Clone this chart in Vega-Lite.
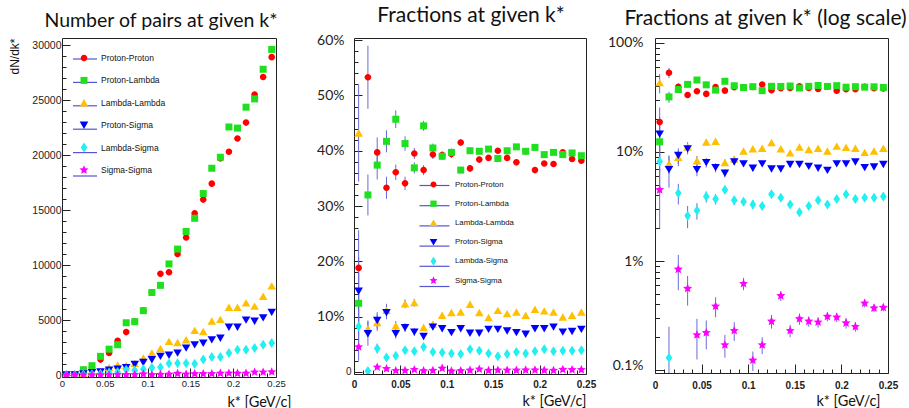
{
  "$schema": "https://vega.github.io/schema/vega-lite/v6.json",
  "background": "white",
  "padding": {"left": 7, "top": 4, "right": 0, "bottom": 0},
  "config": {
    "view": {"stroke": "#222", "strokeWidth": 1},
    "axis": {"grid": false, "domain": false, "tickColor": "#222", "tickWidth": 1, "labelColor": "#222", "labelFont": "Liberation Sans", "titleColor": "#111", "titleFontWeight": "normal", "labelFlush": false, "labelOverlap": false},
    "title": {"font": "Lato", "fontSize": 21, "fontWeight": "normal", "color": "#111", "frame": "group", "baseline": "alphabetic", "offset": 7},
    "legend": {"title": null, "orient": "none", "labelFont": "Liberation Sans", "labelColor": "#111"}
  },
  "datasets": {
    "counts": [
      {"pair": "Proton-Proton", "k": 0.005, "pairs": 8}, {"pair": "Proton-Proton", "k": 0.015, "pairs": 60}, {"pair": "Proton-Proton", "k": 0.025, "pairs": 480}, {"pair": "Proton-Proton", "k": 0.035, "pairs": 680}, {"pair": "Proton-Proton", "k": 0.045, "pairs": 1400}, {"pair": "Proton-Proton", "k": 0.055, "pairs": 2000}, {"pair": "Proton-Proton", "k": 0.065, "pairs": 3100}, {"pair": "Proton-Proton", "k": 0.075, "pairs": 3900}, {"pair": "Proton-Proton", "k": 0.085, "pairs": 4850}, {"pair": "Proton-Proton", "k": 0.095, "pairs": 5850}, {"pair": "Proton-Proton", "k": 0.105, "pairs": 7500}, {"pair": "Proton-Proton", "k": 0.115, "pairs": 9200}, {"pair": "Proton-Proton", "k": 0.125, "pairs": 9350}, {"pair": "Proton-Proton", "k": 0.135, "pairs": 11000}, {"pair": "Proton-Proton", "k": 0.145, "pairs": 12500}, {"pair": "Proton-Proton", "k": 0.155, "pairs": 14700}, {"pair": "Proton-Proton", "k": 0.165, "pairs": 15950}, {"pair": "Proton-Proton", "k": 0.175, "pairs": 17400}, {"pair": "Proton-Proton", "k": 0.185, "pairs": 19700}, {"pair": "Proton-Proton", "k": 0.195, "pairs": 20300}, {"pair": "Proton-Proton", "k": 0.205, "pairs": 21500}, {"pair": "Proton-Proton", "k": 0.215, "pairs": 22950}, {"pair": "Proton-Proton", "k": 0.225, "pairs": 25500}, {"pair": "Proton-Proton", "k": 0.235, "pairs": 27100}, {"pair": "Proton-Proton", "k": 0.245, "pairs": 28900},
      {"pair": "Proton-Lambda", "k": 0.005, "pairs": 5}, {"pair": "Proton-Lambda", "k": 0.015, "pairs": 35}, {"pair": "Proton-Lambda", "k": 0.025, "pairs": 480}, {"pair": "Proton-Lambda", "k": 0.035, "pairs": 850}, {"pair": "Proton-Lambda", "k": 0.045, "pairs": 1700}, {"pair": "Proton-Lambda", "k": 0.055, "pairs": 2350}, {"pair": "Proton-Lambda", "k": 0.065, "pairs": 2750}, {"pair": "Proton-Lambda", "k": 0.075, "pairs": 4750}, {"pair": "Proton-Lambda", "k": 0.085, "pairs": 4850}, {"pair": "Proton-Lambda", "k": 0.095, "pairs": 5850}, {"pair": "Proton-Lambda", "k": 0.105, "pairs": 7500}, {"pair": "Proton-Lambda", "k": 0.115, "pairs": 8150}, {"pair": "Proton-Lambda", "k": 0.125, "pairs": 10100}, {"pair": "Proton-Lambda", "k": 0.135, "pairs": 11450}, {"pair": "Proton-Lambda", "k": 0.145, "pairs": 13050}, {"pair": "Proton-Lambda", "k": 0.155, "pairs": 14250}, {"pair": "Proton-Lambda", "k": 0.165, "pairs": 16500}, {"pair": "Proton-Lambda", "k": 0.175, "pairs": 18800}, {"pair": "Proton-Lambda", "k": 0.185, "pairs": 19800}, {"pair": "Proton-Lambda", "k": 0.195, "pairs": 22550}, {"pair": "Proton-Lambda", "k": 0.205, "pairs": 22450}, {"pair": "Proton-Lambda", "k": 0.215, "pairs": 24350}, {"pair": "Proton-Lambda", "k": 0.225, "pairs": 25100}, {"pair": "Proton-Lambda", "k": 0.235, "pairs": 27800}, {"pair": "Proton-Lambda", "k": 0.245, "pairs": 29600},
      {"pair": "Lambda-Lambda", "k": 0.005, "pairs": 18}, {"pair": "Lambda-Lambda", "k": 0.015, "pairs": 10}, {"pair": "Lambda-Lambda", "k": 0.025, "pairs": 110}, {"pair": "Lambda-Lambda", "k": 0.035, "pairs": 250}, {"pair": "Lambda-Lambda", "k": 0.045, "pairs": 330}, {"pair": "Lambda-Lambda", "k": 0.055, "pairs": 670}, {"pair": "Lambda-Lambda", "k": 0.065, "pairs": 900}, {"pair": "Lambda-Lambda", "k": 0.075, "pairs": 850}, {"pair": "Lambda-Lambda", "k": 0.085, "pairs": 1050}, {"pair": "Lambda-Lambda", "k": 0.095, "pairs": 1550}, {"pair": "Lambda-Lambda", "k": 0.105, "pairs": 2000}, {"pair": "Lambda-Lambda", "k": 0.115, "pairs": 2400}, {"pair": "Lambda-Lambda", "k": 0.125, "pairs": 3050}, {"pair": "Lambda-Lambda", "k": 0.135, "pairs": 2950}, {"pair": "Lambda-Lambda", "k": 0.145, "pairs": 3200}, {"pair": "Lambda-Lambda", "k": 0.155, "pairs": 4050}, {"pair": "Lambda-Lambda", "k": 0.165, "pairs": 3950}, {"pair": "Lambda-Lambda", "k": 0.175, "pairs": 4900}, {"pair": "Lambda-Lambda", "k": 0.185, "pairs": 5050}, {"pair": "Lambda-Lambda", "k": 0.195, "pairs": 6150}, {"pair": "Lambda-Lambda", "k": 0.205, "pairs": 6150}, {"pair": "Lambda-Lambda", "k": 0.215, "pairs": 6550}, {"pair": "Lambda-Lambda", "k": 0.225, "pairs": 6250}, {"pair": "Lambda-Lambda", "k": 0.235, "pairs": 7150}, {"pair": "Lambda-Lambda", "k": 0.245, "pairs": 8100},
      {"pair": "Proton-Sigma", "k": 0.005, "pairs": 6}, {"pair": "Proton-Sigma", "k": 0.015, "pairs": 8}, {"pair": "Proton-Sigma", "k": 0.025, "pairs": 110}, {"pair": "Proton-Sigma", "k": 0.035, "pairs": 230}, {"pair": "Proton-Sigma", "k": 0.045, "pairs": 280}, {"pair": "Proton-Sigma", "k": 0.055, "pairs": 450}, {"pair": "Proton-Sigma", "k": 0.065, "pairs": 540}, {"pair": "Proton-Sigma", "k": 0.075, "pairs": 680}, {"pair": "Proton-Sigma", "k": 0.085, "pairs": 980}, {"pair": "Proton-Sigma", "k": 0.095, "pairs": 1150}, {"pair": "Proton-Sigma", "k": 0.105, "pairs": 1400}, {"pair": "Proton-Sigma", "k": 0.115, "pairs": 1700}, {"pair": "Proton-Sigma", "k": 0.125, "pairs": 1800}, {"pair": "Proton-Sigma", "k": 0.135, "pairs": 2000}, {"pair": "Proton-Sigma", "k": 0.145, "pairs": 2450}, {"pair": "Proton-Sigma", "k": 0.155, "pairs": 2750}, {"pair": "Proton-Sigma", "k": 0.165, "pairs": 2900}, {"pair": "Proton-Sigma", "k": 0.175, "pairs": 3200}, {"pair": "Proton-Sigma", "k": 0.185, "pairs": 3350}, {"pair": "Proton-Sigma", "k": 0.195, "pairs": 4350}, {"pair": "Proton-Sigma", "k": 0.205, "pairs": 4350}, {"pair": "Proton-Sigma", "k": 0.215, "pairs": 5000}, {"pair": "Proton-Sigma", "k": 0.225, "pairs": 4900}, {"pair": "Proton-Sigma", "k": 0.235, "pairs": 5200}, {"pair": "Proton-Sigma", "k": 0.245, "pairs": 5700},
      {"pair": "Lambda-Sigma", "k": 0.005, "pairs": 3}, {"pair": "Lambda-Sigma", "k": 0.015, "pairs": 1}, {"pair": "Lambda-Sigma", "k": 0.025, "pairs": 50}, {"pair": "Lambda-Sigma", "k": 0.035, "pairs": 60}, {"pair": "Lambda-Sigma", "k": 0.045, "pairs": 115}, {"pair": "Lambda-Sigma", "k": 0.055, "pairs": 220}, {"pair": "Lambda-Sigma", "k": 0.065, "pairs": 280}, {"pair": "Lambda-Sigma", "k": 0.075, "pairs": 480}, {"pair": "Lambda-Sigma", "k": 0.085, "pairs": 430}, {"pair": "Lambda-Sigma", "k": 0.095, "pairs": 520}, {"pair": "Lambda-Sigma", "k": 0.105, "pairs": 650}, {"pair": "Lambda-Sigma", "k": 0.115, "pairs": 700}, {"pair": "Lambda-Sigma", "k": 0.125, "pairs": 1050}, {"pair": "Lambda-Sigma", "k": 0.135, "pairs": 1080}, {"pair": "Lambda-Sigma", "k": 0.145, "pairs": 1070}, {"pair": "Lambda-Sigma", "k": 0.155, "pairs": 1020}, {"pair": "Lambda-Sigma", "k": 0.165, "pairs": 1420}, {"pair": "Lambda-Sigma", "k": 0.175, "pairs": 1640}, {"pair": "Lambda-Sigma", "k": 0.185, "pairs": 1640}, {"pair": "Lambda-Sigma", "k": 0.195, "pairs": 2000}, {"pair": "Lambda-Sigma", "k": 0.205, "pairs": 2300}, {"pair": "Lambda-Sigma", "k": 0.215, "pairs": 2300}, {"pair": "Lambda-Sigma", "k": 0.225, "pairs": 2450}, {"pair": "Lambda-Sigma", "k": 0.235, "pairs": 2750}, {"pair": "Lambda-Sigma", "k": 0.245, "pairs": 2900},
      {"pair": "Sigma-Sigma", "k": 0.005, "pairs": 2}, {"pair": "Sigma-Sigma", "k": 0.015, "pairs": 0}, {"pair": "Sigma-Sigma", "k": 0.025, "pairs": 11}, {"pair": "Sigma-Sigma", "k": 0.035, "pairs": 12}, {"pair": "Sigma-Sigma", "k": 0.045, "pairs": 8}, {"pair": "Sigma-Sigma", "k": 0.055, "pairs": 12}, {"pair": "Sigma-Sigma", "k": 0.065, "pairs": 29}, {"pair": "Sigma-Sigma", "k": 0.075, "pairs": 18}, {"pair": "Sigma-Sigma", "k": 0.085, "pairs": 28}, {"pair": "Sigma-Sigma", "k": 0.095, "pairs": 93}, {"pair": "Sigma-Sigma", "k": 0.105, "pairs": 23}, {"pair": "Sigma-Sigma", "k": 0.115, "pairs": 38}, {"pair": "Sigma-Sigma", "k": 0.125, "pairs": 71}, {"pair": "Sigma-Sigma", "k": 0.135, "pairs": 136}, {"pair": "Sigma-Sigma", "k": 0.145, "pairs": 74}, {"pair": "Sigma-Sigma", "k": 0.155, "pairs": 108}, {"pair": "Sigma-Sigma", "k": 0.165, "pairs": 114}, {"pair": "Sigma-Sigma", "k": 0.175, "pairs": 126}, {"pair": "Sigma-Sigma", "k": 0.185, "pairs": 153}, {"pair": "Sigma-Sigma", "k": 0.195, "pairs": 169}, {"pair": "Sigma-Sigma", "k": 0.205, "pairs": 153}, {"pair": "Sigma-Sigma", "k": 0.215, "pairs": 153}, {"pair": "Sigma-Sigma", "k": 0.225, "pairs": 263}, {"pair": "Sigma-Sigma", "k": 0.235, "pairs": 259}, {"pair": "Sigma-Sigma", "k": 0.245, "pairs": 282}
    ],
    "fractions": [
      {"pair": "Proton-Proton", "k": 0.005, "frac": 18.8, "err": 6.8}, {"pair": "Proton-Proton", "k": 0.015, "frac": 53.3, "err": 5.7}, {"pair": "Proton-Proton", "k": 0.025, "frac": 39.7, "err": 2.7}, {"pair": "Proton-Proton", "k": 0.035, "frac": 33.3, "err": 2.0}, {"pair": "Proton-Proton", "k": 0.045, "frac": 36.1, "err": 1.4}, {"pair": "Proton-Proton", "k": 0.055, "frac": 34.1, "err": 1.2}, {"pair": "Proton-Proton", "k": 0.065, "frac": 39.5, "err": 1.0}, {"pair": "Proton-Proton", "k": 0.075, "frac": 36.5, "err": 0.9}, {"pair": "Proton-Proton", "k": 0.085, "frac": 39.3, "err": 0.8}, {"pair": "Proton-Proton", "k": 0.095, "frac": 39.2, "err": 0.7}, {"pair": "Proton-Proton", "k": 0.105, "frac": 39.4, "err": 0.7}, {"pair": "Proton-Proton", "k": 0.115, "frac": 41.5, "err": 0.6}, {"pair": "Proton-Proton", "k": 0.125, "frac": 36.8, "err": 0.6}, {"pair": "Proton-Proton", "k": 0.135, "frac": 38.4, "err": 0.55}, {"pair": "Proton-Proton", "k": 0.145, "frac": 38.7, "err": 0.5}, {"pair": "Proton-Proton", "k": 0.155, "frac": 40.0, "err": 0.5}, {"pair": "Proton-Proton", "k": 0.165, "frac": 38.7, "err": 0.45}, {"pair": "Proton-Proton", "k": 0.175, "frac": 37.9, "err": 0.45}, {"pair": "Proton-Proton", "k": 0.185, "frac": 39.9, "err": 0.4}, {"pair": "Proton-Proton", "k": 0.195, "frac": 36.5, "err": 0.4}, {"pair": "Proton-Proton", "k": 0.205, "frac": 37.7, "err": 0.4}, {"pair": "Proton-Proton", "k": 0.215, "frac": 37.6, "err": 0.4}, {"pair": "Proton-Proton", "k": 0.225, "frac": 39.7, "err": 0.35}, {"pair": "Proton-Proton", "k": 0.235, "frac": 38.5, "err": 0.35}, {"pair": "Proton-Proton", "k": 0.245, "frac": 38.2, "err": 0.35},
      {"pair": "Proton-Lambda", "k": 0.005, "frac": 12.4, "err": 5.8}, {"pair": "Proton-Lambda", "k": 0.015, "frac": 32.0, "err": 3.7}, {"pair": "Proton-Lambda", "k": 0.025, "frac": 37.4, "err": 2.6}, {"pair": "Proton-Lambda", "k": 0.035, "frac": 41.7, "err": 2.0}, {"pair": "Proton-Lambda", "k": 0.045, "frac": 45.7, "err": 1.6}, {"pair": "Proton-Lambda", "k": 0.055, "frac": 41.3, "err": 1.3}, {"pair": "Proton-Lambda", "k": 0.065, "frac": 36.9, "err": 1.0}, {"pair": "Proton-Lambda", "k": 0.075, "frac": 44.5, "err": 0.9}, {"pair": "Proton-Lambda", "k": 0.085, "frac": 40.5, "err": 0.8}, {"pair": "Proton-Lambda", "k": 0.095, "frac": 39.0, "err": 0.7}, {"pair": "Proton-Lambda", "k": 0.105, "frac": 39.7, "err": 0.7}, {"pair": "Proton-Lambda", "k": 0.115, "frac": 36.5, "err": 0.6}, {"pair": "Proton-Lambda", "k": 0.125, "frac": 40.0, "err": 0.6}, {"pair": "Proton-Lambda", "k": 0.135, "frac": 39.9, "err": 0.55}, {"pair": "Proton-Lambda", "k": 0.145, "frac": 40.3, "err": 0.5}, {"pair": "Proton-Lambda", "k": 0.155, "frac": 38.6, "err": 0.5}, {"pair": "Proton-Lambda", "k": 0.165, "frac": 40.0, "err": 0.45}, {"pair": "Proton-Lambda", "k": 0.175, "frac": 40.7, "err": 0.45}, {"pair": "Proton-Lambda", "k": 0.185, "frac": 39.9, "err": 0.4}, {"pair": "Proton-Lambda", "k": 0.195, "frac": 40.6, "err": 0.4}, {"pair": "Proton-Lambda", "k": 0.205, "frac": 39.3, "err": 0.4}, {"pair": "Proton-Lambda", "k": 0.215, "frac": 39.7, "err": 0.4}, {"pair": "Proton-Lambda", "k": 0.225, "frac": 39.3, "err": 0.35}, {"pair": "Proton-Lambda", "k": 0.235, "frac": 39.6, "err": 0.35}, {"pair": "Proton-Lambda", "k": 0.245, "frac": 39.1, "err": 0.35},
      {"pair": "Lambda-Lambda", "k": 0.005, "frac": 43.2, "err": 8.8}, {"pair": "Lambda-Lambda", "k": 0.015, "frac": 7.8, "err": 1.5}, {"pair": "Lambda-Lambda", "k": 0.025, "frac": 8.9, "err": 1.5}, {"pair": "Lambda-Lambda", "k": 0.035, "frac": 11.1, "err": 1.2}, {"pair": "Lambda-Lambda", "k": 0.045, "frac": 8.3, "err": 0.9}, {"pair": "Lambda-Lambda", "k": 0.055, "frac": 12.3, "err": 0.8}, {"pair": "Lambda-Lambda", "k": 0.065, "frac": 12.5, "err": 0.7}, {"pair": "Lambda-Lambda", "k": 0.075, "frac": 8.0, "err": 0.55}, {"pair": "Lambda-Lambda", "k": 0.085, "frac": 8.6, "err": 0.5}, {"pair": "Lambda-Lambda", "k": 0.095, "frac": 10.2, "err": 0.5}, {"pair": "Lambda-Lambda", "k": 0.105, "frac": 10.7, "err": 0.45}, {"pair": "Lambda-Lambda", "k": 0.115, "frac": 10.8, "err": 0.4}, {"pair": "Lambda-Lambda", "k": 0.125, "frac": 12.2, "err": 0.4}, {"pair": "Lambda-Lambda", "k": 0.135, "frac": 10.7, "err": 0.35}, {"pair": "Lambda-Lambda", "k": 0.145, "frac": 9.8, "err": 0.35}, {"pair": "Lambda-Lambda", "k": 0.155, "frac": 11.1, "err": 0.3}, {"pair": "Lambda-Lambda", "k": 0.165, "frac": 10.5, "err": 0.3}, {"pair": "Lambda-Lambda", "k": 0.175, "frac": 10.8, "err": 0.3}, {"pair": "Lambda-Lambda", "k": 0.185, "frac": 10.2, "err": 0.3}, {"pair": "Lambda-Lambda", "k": 0.195, "frac": 11.3, "err": 0.28}, {"pair": "Lambda-Lambda", "k": 0.205, "frac": 11.0, "err": 0.28}, {"pair": "Lambda-Lambda", "k": 0.215, "frac": 10.8, "err": 0.27}, {"pair": "Lambda-Lambda", "k": 0.225, "frac": 9.9, "err": 0.25}, {"pair": "Lambda-Lambda", "k": 0.235, "frac": 10.2, "err": 0.25}, {"pair": "Lambda-Lambda", "k": 0.245, "frac": 10.8, "err": 0.25},
      {"pair": "Proton-Sigma", "k": 0.005, "frac": 14.6, "err": 6.2}, {"pair": "Proton-Sigma", "k": 0.015, "frac": 6.9, "err": 2.2}, {"pair": "Proton-Sigma", "k": 0.025, "frac": 9.3, "err": 1.5}, {"pair": "Proton-Sigma", "k": 0.035, "frac": 10.7, "err": 1.2}, {"pair": "Proton-Sigma", "k": 0.045, "frac": 6.9, "err": 0.9}, {"pair": "Proton-Sigma", "k": 0.055, "frac": 8.0, "err": 0.8}, {"pair": "Proton-Sigma", "k": 0.065, "frac": 7.2, "err": 0.7}, {"pair": "Proton-Sigma", "k": 0.075, "frac": 6.4, "err": 0.55}, {"pair": "Proton-Sigma", "k": 0.085, "frac": 8.1, "err": 0.5}, {"pair": "Proton-Sigma", "k": 0.095, "frac": 7.8, "err": 0.5}, {"pair": "Proton-Sigma", "k": 0.105, "frac": 7.1, "err": 0.45}, {"pair": "Proton-Sigma", "k": 0.115, "frac": 7.8, "err": 0.4}, {"pair": "Proton-Sigma", "k": 0.125, "frac": 7.0, "err": 0.4}, {"pair": "Proton-Sigma", "k": 0.135, "frac": 7.0, "err": 0.35}, {"pair": "Proton-Sigma", "k": 0.145, "frac": 7.7, "err": 0.35}, {"pair": "Proton-Sigma", "k": 0.155, "frac": 7.7, "err": 0.3}, {"pair": "Proton-Sigma", "k": 0.165, "frac": 7.4, "err": 0.3}, {"pair": "Proton-Sigma", "k": 0.175, "frac": 7.1, "err": 0.3}, {"pair": "Proton-Sigma", "k": 0.185, "frac": 6.8, "err": 0.3}, {"pair": "Proton-Sigma", "k": 0.195, "frac": 7.8, "err": 0.28}, {"pair": "Proton-Sigma", "k": 0.205, "frac": 7.8, "err": 0.28}, {"pair": "Proton-Sigma", "k": 0.215, "frac": 8.1, "err": 0.27}, {"pair": "Proton-Sigma", "k": 0.225, "frac": 7.2, "err": 0.25}, {"pair": "Proton-Sigma", "k": 0.235, "frac": 7.3, "err": 0.25}, {"pair": "Proton-Sigma", "k": 0.245, "frac": 7.7, "err": 0.25},
      {"pair": "Lambda-Sigma", "k": 0.005, "frac": 8.2, "err": 4.0}, {"pair": "Lambda-Sigma", "k": 0.015, "frac": 0.13, "err": 0.12}, {"pair": "Lambda-Sigma", "k": 0.025, "frac": 4.2, "err": 0.9}, {"pair": "Lambda-Sigma", "k": 0.035, "frac": 2.6, "err": 0.6}, {"pair": "Lambda-Sigma", "k": 0.045, "frac": 2.9, "err": 0.5}, {"pair": "Lambda-Sigma", "k": 0.055, "frac": 3.9, "err": 0.45}, {"pair": "Lambda-Sigma", "k": 0.065, "frac": 3.7, "err": 0.4}, {"pair": "Lambda-Sigma", "k": 0.075, "frac": 4.5, "err": 0.35}, {"pair": "Lambda-Sigma", "k": 0.085, "frac": 3.6, "err": 0.35}, {"pair": "Lambda-Sigma", "k": 0.095, "frac": 3.5, "err": 0.3}, {"pair": "Lambda-Sigma", "k": 0.105, "frac": 3.3, "err": 0.3}, {"pair": "Lambda-Sigma", "k": 0.115, "frac": 3.2, "err": 0.25}, {"pair": "Lambda-Sigma", "k": 0.125, "frac": 4.1, "err": 0.25}, {"pair": "Lambda-Sigma", "k": 0.135, "frac": 3.8, "err": 0.25}, {"pair": "Lambda-Sigma", "k": 0.145, "frac": 3.3, "err": 0.22}, {"pair": "Lambda-Sigma", "k": 0.155, "frac": 2.8, "err": 0.2}, {"pair": "Lambda-Sigma", "k": 0.165, "frac": 3.2, "err": 0.2}, {"pair": "Lambda-Sigma", "k": 0.175, "frac": 3.6, "err": 0.2}, {"pair": "Lambda-Sigma", "k": 0.185, "frac": 3.3, "err": 0.18}, {"pair": "Lambda-Sigma", "k": 0.195, "frac": 3.7, "err": 0.18}, {"pair": "Lambda-Sigma", "k": 0.205, "frac": 4.1, "err": 0.18}, {"pair": "Lambda-Sigma", "k": 0.215, "frac": 3.7, "err": 0.17}, {"pair": "Lambda-Sigma", "k": 0.225, "frac": 3.8, "err": 0.17}, {"pair": "Lambda-Sigma", "k": 0.235, "frac": 3.8, "err": 0.16}, {"pair": "Lambda-Sigma", "k": 0.245, "frac": 3.9, "err": 0.16},
      {"pair": "Sigma-Sigma", "k": 0.005, "frac": 4.5, "err": 2.5}, {"pair": "Sigma-Sigma", "k": 0.025, "frac": 0.84, "err": 0.3}, {"pair": "Sigma-Sigma", "k": 0.035, "frac": 0.56, "err": 0.17}, {"pair": "Sigma-Sigma", "k": 0.045, "frac": 0.21, "err": 0.085}, {"pair": "Sigma-Sigma", "k": 0.055, "frac": 0.22, "err": 0.065}, {"pair": "Sigma-Sigma", "k": 0.065, "frac": 0.385, "err": 0.08}, {"pair": "Sigma-Sigma", "k": 0.075, "frac": 0.17, "err": 0.04}, {"pair": "Sigma-Sigma", "k": 0.085, "frac": 0.23, "err": 0.045}, {"pair": "Sigma-Sigma", "k": 0.095, "frac": 0.62, "err": 0.08}, {"pair": "Sigma-Sigma", "k": 0.105, "frac": 0.123, "err": 0.025}, {"pair": "Sigma-Sigma", "k": 0.115, "frac": 0.17, "err": 0.03}, {"pair": "Sigma-Sigma", "k": 0.125, "frac": 0.28, "err": 0.04}, {"pair": "Sigma-Sigma", "k": 0.135, "frac": 0.48, "err": 0.05}, {"pair": "Sigma-Sigma", "k": 0.145, "frac": 0.23, "err": 0.03}, {"pair": "Sigma-Sigma", "k": 0.155, "frac": 0.295, "err": 0.035}, {"pair": "Sigma-Sigma", "k": 0.165, "frac": 0.28, "err": 0.03}, {"pair": "Sigma-Sigma", "k": 0.175, "frac": 0.275, "err": 0.03}, {"pair": "Sigma-Sigma", "k": 0.185, "frac": 0.31, "err": 0.03}, {"pair": "Sigma-Sigma", "k": 0.195, "frac": 0.305, "err": 0.03}, {"pair": "Sigma-Sigma", "k": 0.205, "frac": 0.27, "err": 0.03}, {"pair": "Sigma-Sigma", "k": 0.215, "frac": 0.25, "err": 0.025}, {"pair": "Sigma-Sigma", "k": 0.225, "frac": 0.41, "err": 0.035}, {"pair": "Sigma-Sigma", "k": 0.235, "frac": 0.37, "err": 0.03}, {"pair": "Sigma-Sigma", "k": 0.245, "frac": 0.375, "err": 0.03}
    ]
  },
  "bounds": "flush",
  "spacing": 78,
  "hconcat": [
    {
      "width": 214,
      "height": 339,
      "data": {"name": "counts"},
      "title": {"text": "Number of pairs at given k*", "fontSize": 19.5, "dx": -8},
      "layer": [
        {
          "mark": {"type": "errorbar", "thickness": 1, "color": "#4b4bc8", "clip": true},
          "encoding": {
            "x": {"field": "k", "type": "quantitative", "scale": {"domain": [0, 0.25], "nice": false, "zero": false},
              "axis": {"orient": "bottom", "values": [0, 0.05, 0.1, 0.15, 0.2, 0.25], "format": "~g", "tickSize": -9, "labelPadding": 10, "labelFontSize": 9.5,
                "title": "k* [GeV/c]", "titleFont": "Lato", "titleFontSize": 14.5, "titleAlign": "right", "titleBaseline": "alphabetic", "titleAnchor": "start", "titleX": 229, "titleY": 29}},
            "xError": {"value": 0.005},
            "y": {"field": "pairs", "type": "quantitative", "scale": {"domain": [-180, 30640], "nice": false, "zero": false},
              "axis": {"orient": "left", "values": [0, 5000, 10000, 15000, 20000, 25000, 30000], "format": "d", "tickSize": -8, "labelPadding": 9, "labelFontSize": 10.5,
                "title": "dN/dk*", "titleFont": "Liberation Sans", "titleFontSize": 12, "titleAngle": -90, "titleAlign": "right", "titleBaseline": "middle", "titleAnchor": "start", "titleX": -48, "titleY": 0}},
            "color": {"field": "pair", "type": "nominal",
              "scale": {"domain": ["Proton-Proton", "Proton-Lambda", "Lambda-Lambda", "Proton-Sigma", "Lambda-Sigma", "Sigma-Sigma"], "range": ["#5555d0", "#5555d0", "#5555d0", "#5555d0", "#5555d0", "#5555d0"]},
              "legend": {"legendX": 17, "legendY": 15, "symbolType": "M-2.4,0H2.4", "symbolSize": 100, "symbolStrokeWidth": 1.2, "labelExpr": "''", "labelFontSize": 8.5, "labelOffset": 12, "rowPadding": 12.4, "zindex": 0}}
          }
        },
        {
          "mark": {"type": "point", "filled": true, "opacity": 1, "size": 100, "strokeWidth": 0, "clip": true},
          "encoding": {
            "x": {"field": "k", "type": "quantitative",
              "axis": {"orient": "bottom", "values": [0.01, 0.02, 0.03, 0.04, 0.06, 0.07, 0.08, 0.09, 0.11, 0.12, 0.13, 0.14, 0.16, 0.17, 0.18, 0.19, 0.21, 0.22, 0.23, 0.24], "labels": false, "tickSize": -4, "title": null}},
            "y": {"field": "pairs", "type": "quantitative",
              "axis": {"orient": "left", "values": [1000, 2000, 3000, 4000, 6000, 7000, 8000, 9000, 11000, 12000, 13000, 14000, 16000, 17000, 18000, 19000, 21000, 22000, 23000, 24000, 26000, 27000, 28000, 29000], "labels": false, "tickSize": -4, "title": null}},
            "color": {"field": "pair", "type": "nominal",
              "scale": {"domain": ["Proton-Proton", "Proton-Lambda", "Lambda-Lambda", "Proton-Sigma", "Lambda-Sigma", "Sigma-Sigma"], "range": ["#ff0000", "#1fe01f", "#ffc000", "#0000ff", "#20f0f0", "#ff00ff"]},
              "legend": {"legendX": 17, "legendY": 15, "symbolSize": 100, "symbolStrokeWidth": 0, "labelFontSize": 8.5, "labelOffset": 12, "rowPadding": 12.4, "zindex": 1}},
            "shape": {"field": "pair", "type": "nominal",
              "scale": {"domain": ["Proton-Proton", "Proton-Lambda", "Lambda-Lambda", "Proton-Sigma", "Lambda-Sigma", "Sigma-Sigma"],
                "range": ["M-0.66,0A0.66,0.66,0,1,0,0.66,0A0.66,0.66,0,1,0,-0.66,0Z", "M-0.7,-0.7H0.7V0.7H-0.7Z", "M0,-0.76L0.86,0.72L-0.86,0.72Z", "M0,0.76L0.86,-0.72L-0.86,-0.72Z", "M0,-1L0.66,0L0,1L-0.66,0Z", "M0,-0.95L0.26,-0.35L0.9,-0.29L0.42,0.13L0.56,0.77L0,0.44L-0.56,0.77L-0.42,0.13L-0.9,-0.29L-0.26,-0.35Z"]},
              "legend": {"legendX": 17, "legendY": 15, "symbolSize": 100, "symbolStrokeWidth": 0, "labelFontSize": 8.5, "labelOffset": 12, "rowPadding": 12.4, "zindex": 1}}
          }
        }
      ],
      "resolve": {"scale": {"color": "independent", "shape": "independent"}, "axis": {"x": "independent", "y": "independent"}}
    },
    {
      "bounds": "flush",
      "spacing": 69,
      "hconcat": [
        {
          "width": 232,
          "height": 336,
          "data": {"name": "fractions"},
          "title": {"text": "Fractions at given k*", "dx": 1},
          "layer": [
            {
              "mark": {"type": "errorbar", "thickness": 1, "color": "#4b4bc8", "clip": true},
              "encoding": {
                "x": {"field": "k", "type": "quantitative", "scale": {"domain": [0, 0.25], "nice": false, "zero": false},
                  "axis": {"orient": "bottom", "values": [0, 0.05, 0.1, 0.15, 0.2, 0.25], "format": "~g", "tickSize": -9, "labelPadding": 14.5, "labelFontSize": 10, "labelFontWeight": "bold",
                    "title": "k* [GeV/c]", "titleFont": "Lato", "titleFontSize": 14.5, "titleAlign": "right", "titleBaseline": "alphabetic", "titleAnchor": "start", "titleX": 232, "titleY": 31}},
                "xError": {"value": 0.005},
                "y": {"field": "frac", "type": "quantitative", "scale": {"domain": [-0.4, 60.4], "nice": false, "zero": false},
                  "axis": {"orient": "left", "values": [0, 10, 20, 30, 40, 50, 60], "labelExpr": "datum.value == 0 ? '0' : datum.value + '%'", "tickSize": -8,
                    "labelPadding": {"condition": {"test": "datum.value == 0", "value": 11}, "value": 18},
                    "labelFont": {"condition": {"test": "datum.value == 0", "value": "Liberation Sans"}, "value": "Lato"},
                    "labelFontSize": {"condition": {"test": "datum.value == 0", "value": 10}, "value": 14},
                    "title": null}},
                "color": {"field": "pair", "type": "nominal",
                  "scale": {"domain": ["Proton-Proton", "Proton-Lambda", "Lambda-Lambda", "Proton-Sigma", "Lambda-Sigma", "Sigma-Sigma"], "range": ["#5555d0", "#5555d0", "#5555d0", "#5555d0", "#5555d0", "#5555d0"]},
                  "legend": {"legendX": 75, "legendY": 142, "symbolType": "M-3.35,0H3.35", "symbolSize": 80, "symbolStrokeWidth": 1.2, "labelExpr": "''", "labelFontSize": 7.8, "labelOffset": 17, "rowPadding": 10.2, "zindex": 0}}
              }
            },
            {
              "mark": {"type": "errorbar", "thickness": 1, "color": "#6a6ad8", "clip": true},
              "encoding": {
                "x": {"field": "k", "type": "quantitative",
                  "axis": {"orient": "bottom", "values": [0.01, 0.02, 0.03, 0.04, 0.06, 0.07, 0.08, 0.09, 0.11, 0.12, 0.13, 0.14, 0.16, 0.17, 0.18, 0.19, 0.21, 0.22, 0.23, 0.24], "labels": false, "tickSize": -4, "title": null}},
                "y": {"field": "frac", "type": "quantitative",
                  "axis": {"orient": "left", "values": [2, 4, 6, 8, 12, 14, 16, 18, 22, 24, 26, 28, 32, 34, 36, 38, 42, 44, 46, 48, 52, 54, 56, 58], "labels": false, "tickSize": -4, "title": null}},
                "yError": {"field": "err"}
              }
            },
            {
              "mark": {"type": "point", "filled": true, "opacity": 1, "size": 100, "strokeWidth": 0, "clip": true},
              "encoding": {
                "x": {"field": "k", "type": "quantitative", "axis": null},
                "y": {"field": "frac", "type": "quantitative", "axis": null},
                "color": {"field": "pair", "type": "nominal",
                  "scale": {"domain": ["Proton-Proton", "Proton-Lambda", "Lambda-Lambda", "Proton-Sigma", "Lambda-Sigma", "Sigma-Sigma"], "range": ["#ff0000", "#1fe01f", "#ffc000", "#0000ff", "#20f0f0", "#ff00ff"]},
                  "legend": {"legendX": 75, "legendY": 142, "symbolSize": 80, "symbolStrokeWidth": 0, "labelFontSize": 7.8, "labelOffset": 17, "rowPadding": 10.2, "zindex": 1}},
                "shape": {"field": "pair", "type": "nominal",
                  "scale": {"domain": ["Proton-Proton", "Proton-Lambda", "Lambda-Lambda", "Proton-Sigma", "Lambda-Sigma", "Sigma-Sigma"],
                    "range": ["M-0.66,0A0.66,0.66,0,1,0,0.66,0A0.66,0.66,0,1,0,-0.66,0Z", "M-0.7,-0.7H0.7V0.7H-0.7Z", "M0,-0.76L0.86,0.72L-0.86,0.72Z", "M0,0.76L0.86,-0.72L-0.86,-0.72Z", "M0,-1L0.66,0L0,1L-0.66,0Z", "M0,-0.95L0.26,-0.35L0.9,-0.29L0.42,0.13L0.56,0.77L0,0.44L-0.56,0.77L-0.42,0.13L-0.9,-0.29L-0.26,-0.35Z"]},
                  "legend": {"legendX": 75, "legendY": 142, "symbolSize": 80, "symbolStrokeWidth": 0, "labelFontSize": 7.8, "labelOffset": 17, "rowPadding": 10.2, "zindex": 1}}
              }
            }
          ],
          "resolve": {"scale": {"color": "independent", "shape": "independent"}, "axis": {"x": "independent", "y": "independent"}}
        },
        {
          "width": 233,
          "height": 335,
          "data": {"name": "fractions"},
          "title": {"text": "Fractions at given k* (log scale)", "dx": -6},
          "layer": [
            {
              "mark": {"type": "errorbar", "thickness": 1, "color": "#4b4bc8", "clip": true},
              "encoding": {
                "x": {"field": "k", "type": "quantitative", "scale": {"domain": [0, 0.25], "nice": false, "zero": false},
                  "axis": {"orient": "bottom", "values": [0, 0.05, 0.1, 0.15, 0.2, 0.25], "format": "~g", "tickSize": -9, "labelPadding": 16.5, "labelFontSize": 10, "labelFontWeight": "bold",
                    "title": "k* [GeV/c]", "titleFont": "Lato", "titleFontSize": 14.5, "titleAlign": "right", "titleBaseline": "alphabetic", "titleAnchor": "start", "titleX": 225, "titleY": 32.5}},
                "xError": {"value": 0.005},
                "y": {"field": "frac", "type": "quantitative", "scale": {"type": "log", "domain": [0.094, 111], "nice": false},
                  "axis": {"orient": "left", "values": [0.1, 1, 10, 100], "labelExpr": "datum.value + '%'", "tickSize": -9, "labelPadding": 21, "labelFont": "Lato", "labelFontSize": 14,
                    "labelOffset": {"condition": {"test": "datum.value < 0.5", "value": -5}, "value": 0}, "title": null}},
                "color": {"field": "pair", "type": "nominal",
                  "scale": {"domain": ["Proton-Proton", "Proton-Lambda", "Lambda-Lambda", "Proton-Sigma", "Lambda-Sigma", "Sigma-Sigma"], "range": ["#5555d0", "#5555d0", "#5555d0", "#5555d0", "#5555d0", "#5555d0"]},
                  "legend": null}
              }
            },
            {
              "mark": {"type": "errorbar", "thickness": 1, "color": "#6a6ad8", "clip": true},
              "encoding": {
                "x": {"field": "k", "type": "quantitative",
                  "axis": {"orient": "bottom", "values": [0.01, 0.02, 0.03, 0.04, 0.06, 0.07, 0.08, 0.09, 0.11, 0.12, 0.13, 0.14, 0.16, 0.17, 0.18, 0.19, 0.21, 0.22, 0.23, 0.24], "labels": false, "tickSize": -4, "title": null}},
                "y": {"field": "frac", "type": "quantitative",
                  "axis": {"orient": "left", "values": [0.2, 0.3, 0.4, 0.5, 0.6, 0.7, 0.8, 0.9, 2, 3, 4, 5, 6, 7, 8, 9, 20, 30, 40, 50, 60, 70, 80, 90], "labels": false, "tickSize": -4.5, "title": null}},
                "yError": {"field": "err"}
              }
            },
            {
              "mark": {"type": "point", "filled": true, "opacity": 1, "size": 100, "strokeWidth": 0, "clip": true},
              "encoding": {
                "x": {"field": "k", "type": "quantitative", "axis": null},
                "y": {"field": "frac", "type": "quantitative", "axis": null},
                "color": {"field": "pair", "type": "nominal",
                  "scale": {"domain": ["Proton-Proton", "Proton-Lambda", "Lambda-Lambda", "Proton-Sigma", "Lambda-Sigma", "Sigma-Sigma"], "range": ["#ff0000", "#1fe01f", "#ffc000", "#0000ff", "#20f0f0", "#ff00ff"]},
                  "legend": null},
                "shape": {"field": "pair", "type": "nominal",
                  "scale": {"domain": ["Proton-Proton", "Proton-Lambda", "Lambda-Lambda", "Proton-Sigma", "Lambda-Sigma", "Sigma-Sigma"],
                    "range": ["M-0.66,0A0.66,0.66,0,1,0,0.66,0A0.66,0.66,0,1,0,-0.66,0Z", "M-0.7,-0.7H0.7V0.7H-0.7Z", "M0,-0.76L0.86,0.72L-0.86,0.72Z", "M0,0.76L0.86,-0.72L-0.86,-0.72Z", "M0,-1L0.66,0L0,1L-0.66,0Z", "M0,-0.95L0.26,-0.35L0.9,-0.29L0.42,0.13L0.56,0.77L0,0.44L-0.56,0.77L-0.42,0.13L-0.9,-0.29L-0.26,-0.35Z"]},
                  "legend": null}
              }
            }
          ],
          "resolve": {"scale": {"color": "independent", "shape": "independent"}, "axis": {"x": "independent", "y": "independent"}}
        }
      ]
    }
  ]
}
